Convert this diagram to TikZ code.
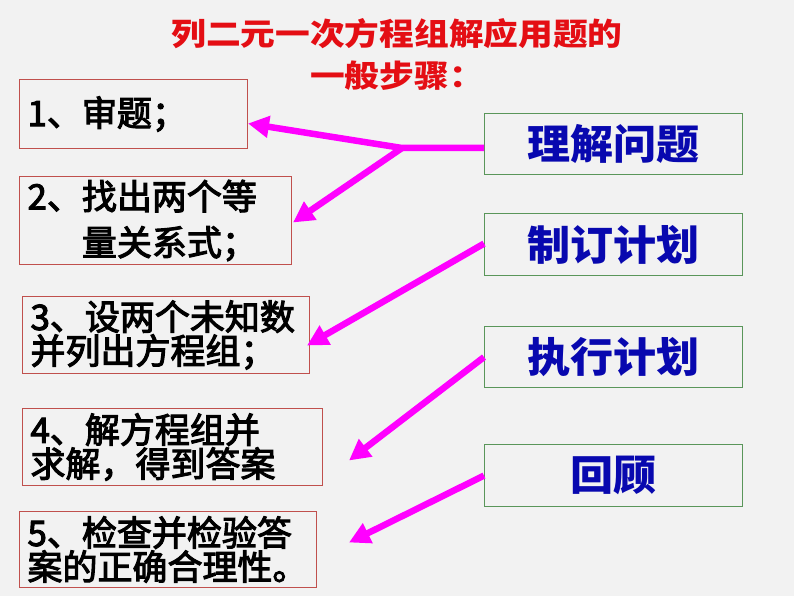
\documentclass[tikz,border=0pt]{standalone}
\usepackage{fontspec}
\newfontfamily\cjk[BoldFont={Noto Sans CJK SC}, BoldFeatures={FakeBold=3}]{Noto Sans CJK SC}
\newfontfamily\cjkt[FakeStretch=1.12]{Noto Sans CJK SC}
\newfontfamily\cjkr[FakeStretch=1.05]{Noto Sans CJK SC}
\usetikzlibrary{arrows.meta}
\definecolor{bg}{RGB}{242,242,242}
\definecolor{lbord}{RGB}{192,80,77}
\definecolor{rbord}{RGB}{90,150,90}
\definecolor{titlered}{RGB}{228,14,20}
\definecolor{stepblue}{RGB}{8,8,175}
\definecolor{mag}{RGB}{255,0,255}
\begin{document}
\begin{tikzpicture}[x=1pt,y=-1pt,
  leftbox/.style={draw=lbord, line width=1pt, anchor=north west, align=left,
    inner xsep=8pt, inner ysep=0pt, font=\cjk\bfseries\fontsize{35}{34}\selectfont},
  rightbox/.style={draw=rbord, line width=1.2pt, anchor=north west, align=center,
    minimum width=258pt, inner sep=0pt, text=stepblue,
    font=\cjkr\bfseries\fontsize{41}{42}\selectfont},
  arr/.style={draw=mag, line width=6.5pt, line join=round,
    -{Triangle[length=21pt,width=21pt]}}
]
\fill[bg] (0,0) rectangle (794,596);
\useasboundingbox (0,0) rectangle (794,596);

\node[text=titlered, align=center, font=\cjkt\bfseries\fontsize{31}{42}\selectfont]
  (title) at (397,54) {列二元一次方程组解应用题的\\一般步骤：};

\node[leftbox, text width=212pt, minimum height=69pt] (b1) at (19,79) {1、审题；};
\node[leftbox, text width=256pt, minimum height=88pt] (b2) at (19,176)
  {2、找出两个等\\[12pt]\phantom{2、}量关系式；};
\node[leftbox, text width=271pt, minimum height=77pt] (b3) at (22,296)
  {3、设两个未知数\\并列出方程组；};
\node[leftbox, text width=284pt, minimum height=77pt] (b4) at (22,408)
  {4、解方程组并\\求解，得到答案};
\node[leftbox, text width=281pt, minimum height=76pt] (b5) at (19,511)
  {5、检查并检验答\\案的正确合理性。};

\node[rightbox, minimum height=61pt] (A) at (484,113) {理解问题};
\node[rightbox, minimum height=62pt] (B) at (484,213) {制订计划};
\node[rightbox, minimum height=61pt] (C) at (484,326) {执行计划};
\node[rightbox, minimum height=62pt] (D) at (484,444) {回顾};

\coordinate (J) at (402,148);
\draw[arr] (A.west |- J) -- (J) -- ([yshift=-9.5pt]b1.east);
\draw[arr] (J) -- ([xshift=1pt,yshift=-2pt]b2.east);
\draw[arr] ([yshift=1pt]B.west) -- ([xshift=-3pt,yshift=-10.5pt]b3.east);
\draw[arr] (C.west) -- ([xshift=26pt,yshift=-13.5pt]b4.east);
\draw[arr] (D.west) -- ([xshift=32pt,yshift=7pt]b5.east);
\end{tikzpicture}
\end{document}
